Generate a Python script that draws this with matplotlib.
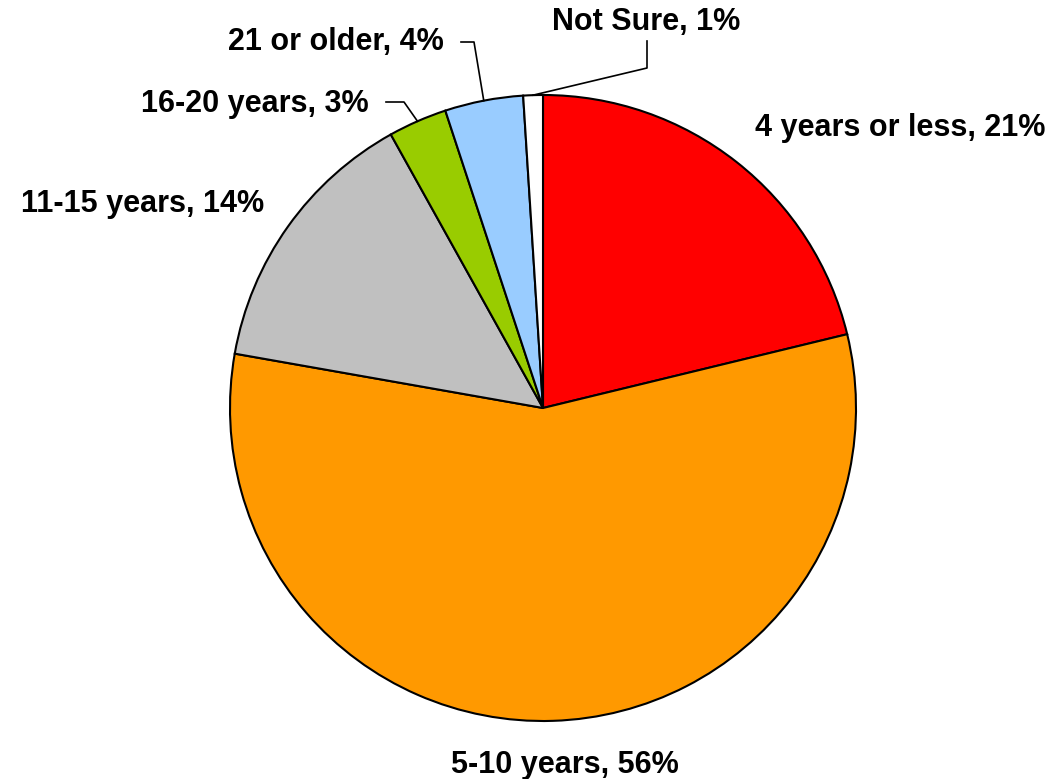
import numpy as np
import matplotlib
matplotlib.use('Agg')
import matplotlib.pyplot as plt

# data
labels = ['4 years or less', '5-10 years', '11-15 years', '16-20 years', '21 or older', 'Not Sure']
values = [21, 56, 14, 3, 4, 1]
colors = ['#FF0000', '#FF9900', '#C0C0C0', '#99CC00', '#99CCFF', '#FFFFFF']

W, H = 1055, 779
fig = plt.figure(figsize=(W / 100, H / 100), dpi=100)
ax = fig.add_axes([0, 0, 1, 1])
ax.set_xlim(0, W)
ax.set_ylim(0, H)
ax.axis('off')

cx, cy, r = 543, H - 408, 313
wedges, _ = ax.pie(values, colors=colors, startangle=90, counterclock=False,
                   center=(cx, cy), radius=r,
                   wedgeprops=dict(edgecolor='black', linewidth=1.5))
ax.set_xlim(0, W)
ax.set_ylim(0, H)
ax.set_aspect('equal')

font = dict(family=['Liberation Sans', 'DejaVu Sans'], fontsize=22, fontweight='bold')

# label text positions (pixels from top-left)
text_pos = [(900, 128), (565, 765), (143, 204), (255, 104), (336, 42), (646, 22)]
for i, w in enumerate(wedges):
    tx, ty = text_pos[i]
    ax.text(tx, H - ty, '%s, %d%%' % (labels[i], values[i]), ha='center', va='center', **font)

# leader lines for the small slices
def edge_point(w):
    a = np.deg2rad((w.theta1 + w.theta2) / 2)
    return cx + r * np.cos(a), cy + r * np.sin(a)

leaders = {3: [(386, 102), (404, 102)], 4: [(461, 42), (474, 42)], 5: [(647, 41), (647, 68)]}
for i, pts in leaders.items():
    ex, ey = edge_point(wedges[i])
    xs = [p[0] for p in pts] + [ex]
    ys = [H - p[1] for p in pts] + [ey]
    ax.plot(xs, ys, color='black', linewidth=1.2)

fig.savefig('out.png', dpi=100)
